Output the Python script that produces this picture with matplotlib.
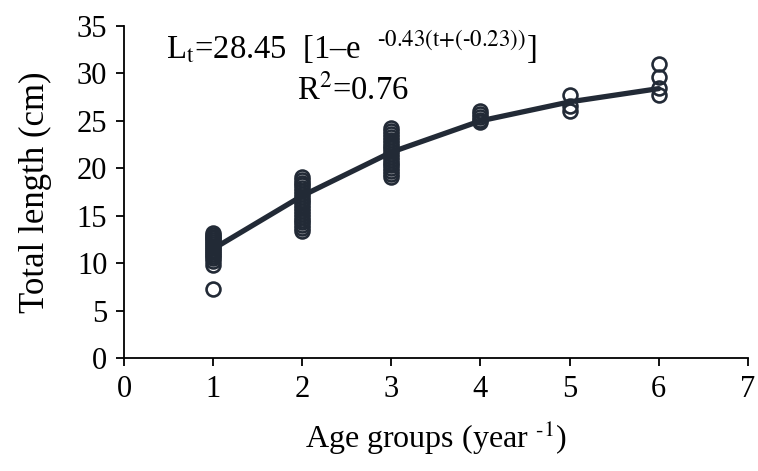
import matplotlib
matplotlib.use("Agg")
from matplotlib import pyplot as plt

# observed total length (cm) by age group
age1 = [13.2, 13.0, 12.8, 12.6, 12.4, 12.2, 12.0, 11.8, 11.6, 11.4, 11.2,
        11.0, 10.8, 10.5, 10.2, 9.8, 7.3]
age2 = [19.1, 18.8, 18.5, 18.2, 17.9, 17.6, 17.3, 17.0, 16.7, 16.4, 16.1,
        15.8, 15.5, 15.2, 14.9, 14.6, 14.3, 14.0, 13.7, 13.4]
age3 = [24.2, 23.9, 23.6, 23.3, 23.0, 22.7, 22.4, 22.1, 21.8, 21.5, 21.2,
        20.9, 20.6, 20.3, 20.0, 19.7, 19.4, 19.1]
age4 = [26.0, 25.7, 25.4, 25.1, 24.9]
age5 = [27.7, 26.6, 26.0]
age6 = [31.0, 29.6, 28.5, 27.7]

groups = [1, 2, 3, 4, 5, 6]
observed = [age1, age2, age3, age4, age5, age6]
fitted = [11.5, 17.1, 21.7, 25.0, 27.0, 28.4]

color = '#222a36'

plt.rcParams['font.family'] = ['Liberation Serif', 'DejaVu Serif']
plt.rcParams['mathtext.fontset'] = 'stix'

fig = plt.figure(figsize=(7.58, 4.71), dpi=100)
ax = fig.add_axes([0.1636, 0.2399, 0.823, 0.7049])

for g, vals in zip(groups, observed):
    ax.plot([g] * len(vals), vals, linestyle='none', marker='o',
            markersize=10, markerfacecolor='none', markeredgecolor=color,
            markeredgewidth=1.9)

ax.plot(groups, fitted, color=color, linewidth=3.8, solid_capstyle='round')

ax.set_xlim(0, 7)
ax.set_ylim(0, 35)
ax.set_xticks(range(0, 8))
ax.set_yticks(range(0, 36, 5))
for side in ['top', 'right']:
    ax.spines[side].set_visible(False)
for side in ['left', 'bottom']:
    ax.spines[side].set_linewidth(1.3)
    ax.spines[side].set_color('black')
ax.tick_params(direction='out', length=6, width=1.3, labelsize=22, pad=6)

ax.set_xlabel(r'Age groups (year $^{\text{-1}}$)', fontsize=23, labelpad=11)
ax.set_ylabel('Total length (cm)', fontsize=25, labelpad=18)

# growth equation
ax.text(0.47, 31.5,
        r'L$_{\mathrm{t}}$=28.45  [1–e  $^{\text{-0.43(t+(-0.23))}}$]',
        fontsize=23.5, ha='left', va='baseline')
ax.text(1.94, 27.3, r'R$^{2}$=0.76', fontsize=23.5, ha='left', va='baseline')

fig.savefig('out.png', dpi=100)
